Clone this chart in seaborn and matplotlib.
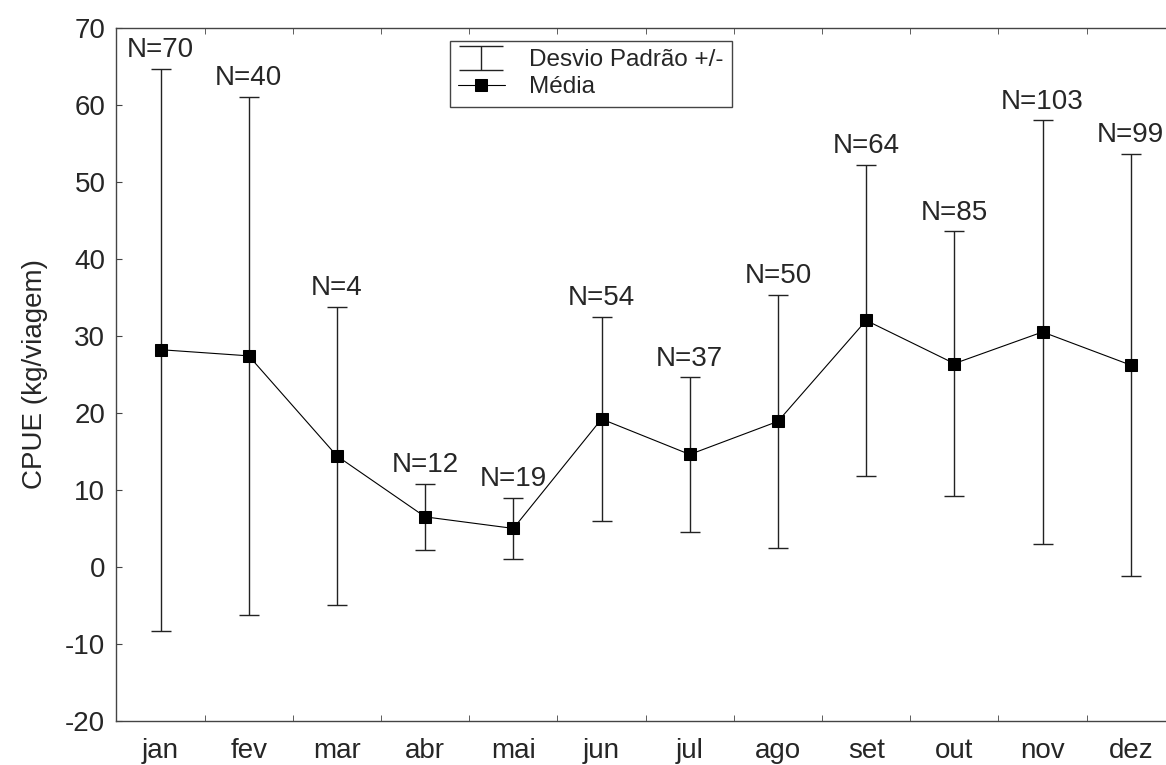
import numpy as np
import matplotlib
matplotlib.use("Agg")
import matplotlib.pyplot as plt
import seaborn as sns

# monthly CPUE: mean, standard deviation and sample size
meses = ["jan", "fev", "mar", "abr", "mai", "jun", "jul", "ago", "set", "out", "nov", "dez"]
media = [28.2, 27.4, 14.4, 6.5, 5.0, 19.2, 14.6, 18.9, 32.0, 26.4, 30.5, 26.2]
desvio = [36.5, 33.6, 19.4, 4.3, 4.0, 13.3, 10.0, 16.4, 20.2, 17.2, 27.5, 27.4]
n_obs = [70, 40, 4, 12, 19, 54, 37, 50, 64, 85, 103, 99]

sns.set_style("ticks")
plt.rcParams["font.family"] = ["Liberation Sans", "DejaVu Sans"]
plt.rcParams["axes.unicode_minus"] = False

fig = plt.figure(figsize=(11.66, 7.65), dpi=100)
ax = fig.add_axes([0.0999, 0.0575, 0.9077, 0.9063])

x = np.arange(len(meses))
ax.errorbar(x, media, yerr=desvio, fmt="none", ecolor="#222222", elinewidth=1.0,
            capsize=7.5, capthick=1.0, zorder=2)
# legend-only errorbar, with wider caps like the original key
eb_leg = ax.errorbar([np.nan], [np.nan], yerr=[1], fmt="none", ecolor="#222222",
                     elinewidth=1.0, capsize=16, capthick=1.0,
                     label="Desvio Padrão +/-")
sns.lineplot(x=x, y=media, ax=ax, color="black", linewidth=0.8, marker="s",
             markersize=9, markeredgecolor="black", markerfacecolor="black",
             label="Média", zorder=3)

for xi, m, s, n in zip(x, media, desvio, n_obs):
    ax.annotate(f"N={n}", (xi, m + s), xytext=(0, 4), textcoords="offset points",
                ha="center", va="bottom", fontsize=20)

ax.set_xlim(-0.5, 11.5)
ax.set_ylim(-20, 70)
ax.set_yticks(range(-20, 71, 10))
ax.set_xticks(x)
ax.set_xticklabels(meses)
ax.set_xticks(x[:-1] + 0.5, minor=True)
ax.tick_params(axis="x", which="major", length=0, labelsize=20, pad=12)
ax.tick_params(axis="x", which="minor", direction="in", length=4, top=True,
               color="#444444")
ax.tick_params(axis="y", direction="in", length=4, labelsize=20, color="#444444",
               pad=8)
ax.set_xlabel("")
ax.set_ylabel("CPUE (kg/viagem)", fontsize=20, labelpad=12)
for sp in ax.spines.values():
    sp.set_color("#444444")
    sp.set_linewidth(1.0)

handles, labels = ax.get_legend_handles_labels()
order = [labels.index("Desvio Padrão +/-"), labels.index("Média")]
leg = ax.legend([handles[i] for i in order], [labels[i] for i in order],
                loc="upper left", bbox_to_anchor=(0.315, 0.981), fontsize=17.5,
                frameon=True, fancybox=False, framealpha=1, edgecolor="#444444",
                handlelength=1.9, handletextpad=1.0, borderpad=0.35,
                labelspacing=0.2, borderaxespad=0)
leg.get_frame().set_linewidth(1.0)

fig.savefig("out.png", dpi=100)
